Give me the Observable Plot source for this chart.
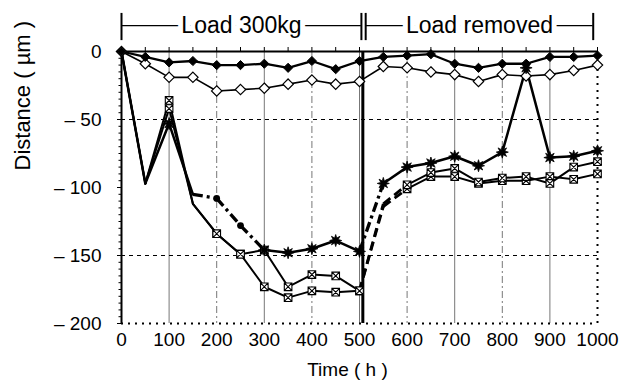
<!DOCTYPE html>
<html>
<head>
<meta charset="utf-8">
<script src="https://cdn.jsdelivr.net/npm/d3@7"></script>
<script src="https://cdn.jsdelivr.net/npm/@observablehq/plot@0.6"></script>
<style>
  html, body { margin: 0; padding: 0; background: #fff; }
  #chart svg { display: block; }
</style>
</head>
<body>
<div id="chart"></div>
<script>
// Sampling times (h)
const times = [0, 50, 100, 150, 200, 250, 300, 350, 400, 450, 500,
               550, 600, 650, 700, 750, 800, 850, 900, 950, 1000];

// Measured distance (µm) for each specimen
const filledDiamond = [0, -4, -8, -7, -10, -10, -9, -12, -7, -13, -7,
                       -4, -3, -2, -9, -12, -9, -9, -4, -4, -3];
const openDiamond   = [0, -9, -19, -19, -29, -28, -27, -24, -21, -24, -22,
                       -11, -12, -15, -17, -22, -17, -18, -17, -14, -10];
const starSeries    = [0, -97, -53, -105, -108, -128, -146, -148, -145, -139, -147,
                       -97, -85, -82, -77, -84, -74, -12, -78, -77, -73];
const crossA        = [0, -97, -36, -112, -134, -149, -146, -173, -164, -165, -176,
                       -112, -98, -89, -86, -96, -93, -92, -97, -85, -81];
const crossB        = [0, -97, -42, -112, -134, -149, -173, -181, -176, -177, -176,
                       -114, -101, -92, -92, -97, -95, -95, -92, -94, -90];

// Segments (by start time) drawn as dash-dot / dashed connectors
const starDashFrom  = [150, 200, 250, 500];
const crossDashFrom = [500, 550];
// Points without a star/box symbol, and points drawn as round dots
const starUnmarked  = [0, 50, 150, 200, 250];
const starRoundDots = [200, 250];
const crossUnmarked = [0, 50, 150, 550];

// Loading phases shown above the plot
const phases = [
  {label: "Load 300kg",   start: 0,   end: 504},
  {label: "Load removed", start: 513, end: 991}
];
const loadRemovedAt = [507];

// Axes and grid
const xTicks = [0, 100, 200, 300, 400, 500, 600, 700, 800, 900, 1000];
const yTicks = [0, -50, -100, -150, -200];
const xGridSolid  = [100, 300, 500, 700, 900];
const xGridDashed = [200, 400, 600, 800];
const xGridDotted = [1000];
const yGridDashed = [-50, -150];

// ---- helpers ----
const rows = (values) => times.map((t, i) => ({t, v: values[i]})).filter(d => d.v != null);

function segments(values, dashFrom) {
  const out = [];
  let prev = null;
  for (const d of rows(values)) {
    if (prev) out.push({x1: prev.t, y1: prev.v, x2: d.t, y2: d.v, dashed: dashFrom.includes(prev.t)});
    prev = d;
  }
  return out;
}

// custom marker shapes
const rhombus = {
  draw(ctx, size) {
    const r = Math.sqrt(size / Math.PI) * 1.15;
    ctx.moveTo(0, -r); ctx.lineTo(r, 0); ctx.lineTo(0, r); ctx.lineTo(-r, 0); ctx.closePath();
  }
};
const star8 = {
  draw(ctx, size) {
    const R = Math.sqrt(size / Math.PI) * 1.4, r = R * 0.45;
    for (let i = 0; i < 16; i++) {
      const a = i * Math.PI / 8 - Math.PI / 2, rr = i % 2 ? r : R;
      const x = rr * Math.cos(a), y = rr * Math.sin(a);
      if (i === 0) ctx.moveTo(x, y); else ctx.lineTo(x, y);
    }
    ctx.closePath();
  }
};
const boxX = {
  draw(ctx, size) {
    const s = Math.sqrt(size / Math.PI);
    ctx.moveTo(-s, -s); ctx.lineTo(s, -s); ctx.lineTo(s, s); ctx.lineTo(-s, s); ctx.closePath();
    ctx.moveTo(-s, -s); ctx.lineTo(s, s);
    ctx.moveTo(s, -s); ctx.lineTo(-s, s);
  }
};

function seriesLinks(values, dashFrom, width, dash) {
  const segs = segments(values, dashFrom);
  return [
    Plot.link(segs.filter(d => !d.dashed), {x1: "x1", y1: "y1", x2: "x2", y2: "y2",
      stroke: "black", strokeWidth: width, strokeLinecap: "round", strokeLinejoin: "round"}),
    Plot.link(segs.filter(d => d.dashed), {x1: "x1", y1: "y1", x2: "x2", y2: "y2",
      stroke: "black", strokeWidth: width + 0.8, strokeDasharray: dash, strokeLinecap: "butt"})
  ];
}

const font = "'Liberation Sans', Arial, Helvetica, sans-serif";

const chart = Plot.plot({
  width: 623,
  height: 387,
  marginLeft: 121,
  marginRight: 26,
  marginTop: 51,
  marginBottom: 64,
  x: {domain: [0, 1000]},
  y: {domain: [-200, 0]},
  style: {fontFamily: font, fontSize: "19px", background: "white", color: "black", overflow: "visible"},
  marks: [
    // grid
    Plot.ruleX(xGridSolid,  {stroke: "#777", strokeWidth: 1}),
    Plot.ruleX(xGridDashed, {stroke: "#777", strokeWidth: 1, strokeDasharray: "7,3,2,3"}),
    Plot.ruleX(xGridDotted, {stroke: "black", strokeWidth: 2, strokeDasharray: "2,5", y1: -200, y2: -9}),
    Plot.ruleY(yGridDashed, {stroke: "black", strokeWidth: 1, strokeDasharray: "4,4"}),
    Plot.ruleY([-200], {stroke: "black", strokeWidth: 2, strokeDasharray: "2,5"}),

    // frame lines
    Plot.ruleY([0], {stroke: "black", strokeWidth: 2}),
    Plot.ruleX([0], {stroke: "black", strokeWidth: 2}),
    Plot.ruleX(loadRemovedAt, {stroke: "black", strokeWidth: 3}),

    // series lines
    Plot.line(rows(openDiamond), {x: "t", y: "v", stroke: "black", strokeWidth: 1.6}),
    Plot.line(rows(filledDiamond), {x: "t", y: "v", stroke: "black", strokeWidth: 2.3}),
    ...seriesLinks(crossB, crossDashFrom, 2, "9,5"),
    ...seriesLinks(crossA, crossDashFrom, 2, "9,5"),
    ...seriesLinks(starSeries, starDashFrom, 2.5, "10,4,3,4"),

    // markers
    Plot.dot(rows(openDiamond), {x: "t", y: "v", symbol: rhombus, r: 4.5, fill: "white", stroke: "black", strokeWidth: 1.2}),
    Plot.dot(rows(filledDiamond), {x: "t", y: "v", symbol: rhombus, r: 4, fill: "black", stroke: "black", strokeWidth: 1}),
    Plot.dot(rows(crossB).filter(d => !crossUnmarked.includes(d.t)), {x: "t", y: "v", symbol: boxX, r: 3.8, fill: "white", stroke: "black", strokeWidth: 1.1}),
    Plot.dot(rows(crossA).filter(d => !crossUnmarked.includes(d.t)), {x: "t", y: "v", symbol: boxX, r: 3.8, fill: "white", stroke: "black", strokeWidth: 1.1}),
    Plot.dot(rows(starSeries).filter(d => !starUnmarked.includes(d.t)), {x: "t", y: "v", symbol: star8, r: 4.3, fill: "black", stroke: "black", strokeWidth: 0.8}),
    Plot.dot(rows(starSeries).filter(d => starRoundDots.includes(d.t)), {x: "t", y: "v", r: 3.4, fill: "black"}),

    // axes
    Plot.axisX({ticks: xTicks, tickSize: 0, tickPadding: 9, tickFormat: d3.format("d"), label: null, fontSize: 19}),
    Plot.axisX({anchor: "top", ticks: d3.range(50, 1001, 50), tickSize: 5, tickFormat: () => "", label: null}),
    Plot.axisY({ticks: yTicks, tickSize: 4, tickPadding: 16, label: null, fontSize: 19,
      tickFormat: d => d === 0 ? "0" : "\u2013 " + Math.abs(d)}),
    Plot.axisY({ticks: d3.range(-200, 1, 5), tickSize: 2.5, tickFormat: () => "", label: null}),

    // axis titles
    Plot.text(["Time ( h )"], {text: d => d, frameAnchor: "bottom", dx: -12, dy: 52, fontSize: 19}),
    Plot.text(["Distance ( \u00b5m )"], {text: d => d, frameAnchor: "left", dx: -99, dy: -17, rotate: -90, fontSize: 22, ariaLabel: "y-title"}),

    // loading phase brackets
    Plot.ruleY(phases, {x1: "start", x2: "end", y: 19, stroke: "black", strokeWidth: 1.3}),
    Plot.ruleX(phases.flatMap(p => [p.start, p.end]), {y1: 8, y2: 28, stroke: "black", strokeWidth: 2}),
    Plot.text(phases, {x: d => (d.start + d.end) / 2, y: 19, text: "label", fontSize: 23,
      fill: "black", stroke: "white", strokeWidth: 10})
  ]
});

d3.select(chart).selectAll('g[aria-label="y-title"] text').attr("letter-spacing", "1.6px");
document.getElementById("chart").appendChild(chart);
</script>
</body>
</html>
